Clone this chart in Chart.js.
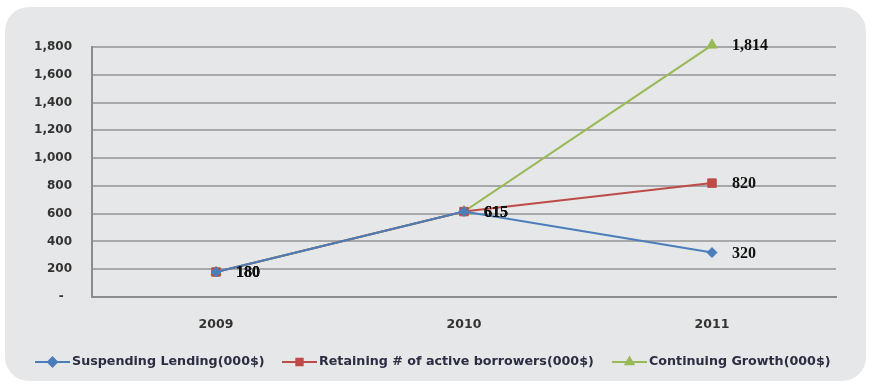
<!DOCTYPE html>
<html><head><meta charset="utf-8">
<script src="https://cdn.jsdelivr.net/npm/chart.js@4"></script>
<style>html,body{margin:0;padding:0;background:#fff;}#wrap{width:872px;height:384px;position:relative;}</style>
</head><body><div id="wrap"><canvas id="c" width="872" height="384"></canvas></div>
<script>
const categories = ['2009', '2010', '2011'];
const suspending = [180, 615, 320];
const retaining = [180, 615, 820];
const continuing = [180, 615, 1814];
const seriesNames = ['Suspending Lending(000$)', 'Retaining # of active borrowers(000$)', 'Continuing Growth(000$)'];
const yTickValues = [0, 200, 400, 600, 800, 1000, 1200, 1400, 1600, 1800];
const yTickLabels = ['-', '200', '400', '600', '800', '1,000', '1,200', '1,400', '1,600', '1,800'];

const colors = ['#4a7ebb', '#be4b48', '#98b954'];
const markers = ['rectRot', 'rect', 'triangle'];
const radii = [5, 6, 6];

const cardPlugin = {
  id: 'card',
  beforeDraw(chart) {
    const ctx = chart.ctx;
    ctx.save();
    ctx.fillStyle = '#e6e7e8';
    ctx.beginPath();
    ctx.roundRect(5, 7, 861, 374, 24);
    ctx.fill();
    ctx.restore();
  }
};

const labelPlugin = {
  id: 'vlabels',
  afterDatasetsDraw(chart) {
    const ctx = chart.ctx;
    ctx.save();
    ctx.font = 'bold 16px "Liberation Serif"';
    ctx.fillStyle = '#111';
    ctx.textBaseline = 'middle';
    ctx.textAlign = 'left';
    chart.data.datasets.forEach((ds, i) => {
      const meta = chart.getDatasetMeta(i);
      meta.data.forEach((pt, j) => {
        const v = ds.data[j];
        ctx.fillText(v.toLocaleString('en-US'), pt.x + 20, pt.y + 1);
      });
    });
    ctx.restore();
  }
};

const legendPlugin = {
  id: 'mylegend',
  afterDraw(chart) {
    const ctx = chart.ctx;
    const starts = [35, 282, 612];
    const y = 362;
    ctx.save();
    chart.data.datasets.forEach((ds, i) => {
      const x0 = starts[i];
      ctx.strokeStyle = colors[i];
      ctx.lineWidth = 2;
      ctx.beginPath();
      ctx.moveTo(x0, y); ctx.lineTo(x0 + 35, y); ctx.stroke();
      ctx.fillStyle = colors[i];
      ctx.strokeStyle = colors[i];
      Chart.helpers.drawPoint(ctx, {pointStyle: markers[i], radius: 4.5, borderWidth: 1}, x0 + 17.5, y);
      ctx.font = 'bold 12.7px "DejaVu Sans"';
      ctx.fillStyle = '#2b2d42';
      ctx.textBaseline = 'middle';
      ctx.textAlign = 'left';
      ctx.fillText(ds.label, x0 + 37, y);
    });
    ctx.restore();
  }
};

const data = {
  labels: categories,
  datasets: [suspending, retaining, continuing].map((d, i) => ({
    label: seriesNames[i],
    data: d,
    borderColor: colors[i],
    backgroundColor: colors[i],
    borderWidth: 2,
    pointStyle: markers[i],
    pointRadius: radii[i],
    pointBorderWidth: 1,
    clip: false,
    tension: 0
  }))
};

new Chart(document.getElementById('c'), {
  type: 'line',
  data,
  plugins: [cardPlugin, labelPlugin, legendPlugin],
  options: {
    responsive: false,
    animation: false,
    events: [],
    layout: { padding: { top: 47, right: 36, left: 0, bottom: 0 } },
    plugins: { legend: { display: false }, tooltip: { enabled: false } },
    scales: {
      x: {
        offset: true,
        grid: { display: false, drawTicks: false },
        border: { display: true, color: '#8c8c8c', width: 2 },
        ticks: { font: { family: 'DejaVu Sans', size: 12.5, weight: 'bold' }, color: '#333', padding: 20, maxRotation: 0 },
        afterFit(s) { s.height = 87; }
      },
      y: {
        min: 0, max: 1800,
        afterBuildTicks(s) { s.ticks = yTickValues.map(v => ({ value: v })); },
        grid: { color: '#a8a8a8', lineWidth: 2, drawTicks: false },
        border: { display: true, color: '#8c8c8c', width: 2 },
        ticks: {
          font: { family: 'DejaVu Sans', size: 12, weight: 'bold' }, color: '#333', padding: 20,
          callback(v) { const k = yTickValues.indexOf(v); return k === 0 ? '-  ' : yTickLabels[k]; }
        },
        afterFit(s) { s.width = 92; }
      }
    }
  }
});
</script></body></html>
